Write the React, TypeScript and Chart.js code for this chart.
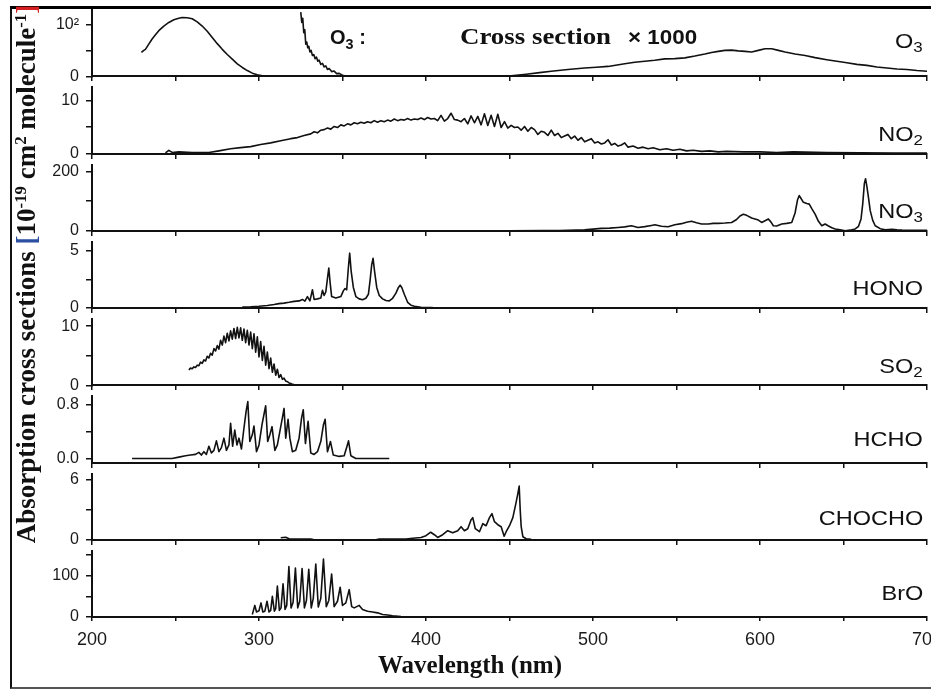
import React, { useEffect, useRef } from 'react';
import { Chart, registerables } from 'chart.js';

Chart.register(...registerables);

// ---------- data (wavelength nm, cross section in panel units) ----------
const X_MIN = 200;
const X_MAX = 700;
const X_TICK_VALUES = [200, 250, 300, 350, 400, 450, 500, 550, 600, 650, 700];

const O3: (number | null)[][] = [
  [229.6, 46], [231, 50], [232, 52], [234, 62], [236, 72], [238, 80], [240, 88], [243, 97], [246, 104],
  [249, 109], [252, 112], [254, 113.5], [257, 113], [260, 111], [263, 105], [266, 97], [269, 87], [272, 75],
  [275, 63], [278, 52], [281, 42], [284, 33], [287, 24], [290, 17], [293, 11], [296, 6], [299, 3], [302, 1],
  [306, 0.3], [310, 0], [318, null],
  [325, 124], [325.6, 104], [326.2, 112], [326.8, 84], [327.4, 90], [328, 62], [328.6, 66], [329.2, 55],
  [329.8, 58], [330.5, 47], [331.2, 50], [332, 40], [332.8, 42], [333.6, 34], [334.4, 37], [335.2, 29],
  [336, 31], [337, 23], [338, 25], [339, 18], [340, 20], [341, 13], [342, 15], [343.5, 9], [345, 10],
  [346.5, 5], [348, 5.5], [350, 2], [352, 0.5], [355, 0],
  [420, 0], [440, 0.3], [451, 1], [460, 4], [468, 7], [475, 9.7], [485, 13], [495, 16], [502, 17.5],
  [509, 19], [519, 24], [525, 27], [531, 29], [537, 31], [543, 33.5], [549, 34], [555, 35.5], [561, 39],
  [567, 43], [571, 46], [575, 48], [579, 50], [583, 50.5], [587, 49], [591, 48], [595, 47], [599, 50],
  [603, 53], [607, 53], [611, 50], [615, 47], [621, 43], [627, 40], [633, 36], [640, 32], [646, 29],
  [652, 26], [658, 23], [664, 21], [670, 18], [676, 16], [682, 14], [688, 13], [694, 11], [700, 9.7],
];

const NO2: number[][] = [
  [244, 0.1], [246, 0.6], [248, 0.2], [252, 0.3], [260, 0.2], [270, 0.2], [276, 0.5], [283, 0.9], [289, 1.1],
  [295, 1.3], [301, 1.7], [307, 2.0], [313, 2.4], [319, 2.8], [323, 3.0], [327, 3.4], [331, 3.7], [333, 4.1],
  [335, 3.9], [337, 4.4], [339, 4.5], [341, 4.8], [343, 4.6], [345, 5.1], [347, 4.9], [349, 5.4], [351, 5.2],
  [353, 5.6], [355, 5.4], [357, 5.8], [359, 5.6], [361, 5.9], [363, 5.7], [365, 6.0], [367, 5.8], [369, 6.2],
  [371, 5.9], [373, 6.2], [375, 6.0], [377, 6.3], [379, 6.1], [381, 6.5], [383, 6.2], [385, 6.4], [387, 6.3],
  [389, 6.6], [391, 6.3], [393, 6.5], [395, 6.4], [397, 6.7], [399, 6.4], [401, 6.8], [403, 6.5], [405, 6.6],
  [407, 6.2], [409, 7.2], [411, 6.1], [413, 6.6], [415, 7.6], [417, 6.4], [419, 6.3], [421, 6.0], [423, 6.6],
  [425, 5.6], [427, 7.1], [429, 5.8], [431, 7.0], [433, 5.4], [435, 7.5], [437, 5.3], [439, 7.2], [441, 5.1],
  [443, 7.4], [445, 4.9], [447, 6.0], [449, 4.8], [451, 5.3], [453, 4.9], [455, 5.0], [457, 4.4], [459, 5.1],
  [461, 4.2], [463, 4.9], [465, 4.5], [467, 3.6], [469, 4.2], [471, 4.0], [473, 3.4], [475, 4.4], [477, 3.4],
  [479, 3.8], [481, 3.0], [483, 3.3], [485, 3.6], [487, 2.8], [489, 3.3], [491, 2.5], [493, 3.0], [495, 2.2],
  [497, 2.5], [499, 2.8], [501, 2.0], [503, 2.2], [505, 1.8], [507, 2.0], [509, 2.6], [511, 1.6], [513, 1.9],
  [515, 1.4], [517, 1.6], [519, 2.0], [521, 1.2], [524, 1.4], [527, 1.0], [530, 1.2], [533, 0.9], [536, 1.1],
  [540, 0.7], [544, 0.9], [548, 0.6], [552, 0.8], [556, 0.5], [560, 0.6], [565, 0.4], [570, 0.5], [575, 0.3],
  [580, 0.4], [590, 0.3], [600, 0.3], [610, 0.2], [620, 0.3], [640, 0.2], [660, 0.15], [680, 0.1], [700, 0.1],
];

const NO3: number[][] = [
  [450, 0], [470, 0.5], [480, 1], [490, 2.5], [495, 3.4], [500, 5.5], [505, 8], [510, 9], [515, 11], [519, 13],
  [523, 17], [527, 11], [531, 14], [535, 18], [537, 20], [541, 15], [545, 13.6], [549, 20], [553, 24],
  [556, 29], [559, 32], [562, 27], [565, 23], [569, 23], [572, 25], [575, 25], [579, 26], [583, 28],
  [586, 38], [588, 50], [590, 56], [592, 52], [595, 43], [597, 40], [599, 36], [601, 28], [603, 34],
  [605, 40], [606.5, 30], [608, 17], [610, 16], [613, 23], [616, 25], [619, 28], [621, 60], [622.5, 105],
  [623.5, 119], [624.5, 110], [626, 96], [628, 92], [629.5, 90], [631, 75], [633, 56], [635, 32], [637, 17],
  [639, 23], [641, 16], [643, 10], [645, 6], [648, 3], [651, 0], [654, 2], [657, 6], [659, 15], [660.5, 40],
  [661.5, 90], [662.5, 160], [663.2, 176], [664, 150], [665, 110], [666, 68], [667.5, 35], [669, 17],
  [672, 7], [675, 3], [679, 5], [682, 3], [685, 2], [690, 1.5], [700, 1.5],
];

const HONO: number[][] = [
  [290, 0.08], [295, 0.1], [300, 0.15], [305, 0.22], [309, 0.3], [312, 0.38], [315, 0.43], [318, 0.5],
  [321, 0.58], [324, 0.62], [326, 0.75], [327.5, 0.6], [329, 1.0], [330.5, 0.62], [332, 1.6], [333, 0.75],
  [335, 0.8], [337, 0.87], [338, 1.55], [339, 1.1], [340, 1.4], [341, 2.6], [341.8, 3.5], [342.6, 2.2],
  [343.5, 1.0], [346, 0.87], [349, 1.0], [350.5, 1.5], [351.5, 1.7], [352.5, 1.6], [353.5, 3.5], [354.3, 4.8],
  [355.2, 3.2], [356.5, 1.8], [358, 1.0], [360, 0.8], [362, 0.72], [364, 0.85], [365.5, 1.2], [366.5, 2.4],
  [367.5, 3.8], [368.3, 4.35], [369.2, 3.2], [370.5, 1.8], [372, 1.1], [374, 0.8], [376, 0.65], [378, 0.62],
  [380, 0.85], [382, 1.3], [383.5, 1.8], [384.5, 2.0], [385.5, 1.8], [387, 1.2], [389, 0.5], [391, 0.25],
  [393, 0.15], [397, 0.07], [401, 0.04], [404, 0.03],
];

const SO2: number[][] = [
  [258, 2.6], [259, 2.9], [260, 2.8], [261, 3.1], [262, 3.0], [263, 3.4], [264, 3.3], [265, 3.9], [266, 3.7],
  [267, 4.3], [268, 4.1], [269, 4.9], [270, 4.6], [271, 5.4], [272, 5.1], [273, 6.2], [274, 5.8], [275, 6.7],
  [276, 6.1], [277, 7.6], [278, 6.8], [279, 8.3], [280, 7.2], [281, 8.8], [282, 7.5], [283, 9.2], [284, 7.8],
  [285, 9.6], [286, 7.9], [287, 9.8], [288, 8.0], [289, 9.7], [290, 7.6], [291, 9.5], [292, 7.2], [293, 9.3],
  [294, 6.8], [295, 9.0], [296, 6.2], [297, 8.7], [298, 5.6], [299, 8.2], [300, 4.8], [301, 7.4], [302, 4.2],
  [303, 6.6], [304, 3.4], [305, 5.6], [306, 2.8], [307, 4.6], [308, 2.2], [309, 3.6], [310, 1.7], [311, 2.7],
  [312, 1.3], [313, 1.8], [314, 1.0], [315, 1.2], [316, 0.7], [317, 0.6], [318, 0.4], [319, 0.3], [320, 0.15],
  [321, 0.1], [322, 0.03], [323, 0],
];

const HCHO: number[][] = [
  [224, 0], [248, 0], [252, 0.02], [256, 0.04], [259, 0.05], [262, 0.06], [264, 0.09], [265.5, 0.05],
  [267, 0.1], [268.5, 0.06], [270, 0.18], [271.5, 0.08], [273, 0.12], [274.5, 0.26], [276, 0.1], [277.5, 0.16],
  [279, 0.3], [280.5, 0.12], [282, 0.2], [283, 0.52], [284.2, 0.18], [285.5, 0.42], [286.8, 0.2], [288, 0.3],
  [289.5, 0.14], [291, 0.45], [292.3, 0.7], [293.3, 0.84], [294.5, 0.25], [296, 0.35], [297, 0.48],
  [298.5, 0.1], [300, 0.2], [301.8, 0.5], [303.2, 0.68], [304, 0.78], [305.2, 0.25], [306.5, 0.35],
  [307.8, 0.47], [309.5, 0.12], [311, 0.2], [312.5, 0.4], [314, 0.6], [315, 0.74], [316, 0.3], [317.4, 0.58],
  [318.5, 0.3], [320, 0.1], [322, 0.12], [324, 0.3], [325.5, 0.6], [326.5, 0.72], [327.8, 0.22], [329.4, 0.55],
  [331, 0.08], [333, 0.06], [335, 0.1], [337, 0.25], [338.6, 0.5], [339.6, 0.58], [341, 0.1], [342.8, 0.25],
  [344.5, 0.05], [348, 0.03], [351, 0.04], [352.7, 0.18], [353.6, 0.26], [355, 0.04], [358, 0], [378, 0],
];

const CHOCHO: number[][] = [
  [313, 0.2], [316, 0.25], [318, 0.1], [322, 0.07], [331, 0.07], [333, 0], [370, 0], [372, 0.06], [388, 0.07],
  [392, 0.15], [397, 0.23], [400, 0.4], [402.8, 0.75], [405, 0.5], [407, 0.23], [410, 0.5], [413, 0.9],
  [416, 0.7], [419, 0.9], [421, 1.3], [423, 0.9], [425, 1.1], [427, 2.0], [428, 2.2], [429.5, 1.1], [432, 0.8],
  [434, 1.6], [436, 1.4], [438, 2.2], [439.5, 2.6], [441, 1.8], [443, 1.5], [445, 1.3], [446.8, 0.35],
  [448, 0.8], [450, 1.4], [452, 2.2], [453.8, 3.6], [455, 4.6], [455.8, 5.35], [456.4, 3.0], [457, 1.3],
  [458, 0.3], [460, 0.1], [463, 0.05],
];

const BRO: number[][] = [
  [296, 6], [297.5, 28], [298.5, 12], [300, 15], [301.2, 34], [302.3, 12], [303.5, 14], [304.8, 38], [306, 12],
  [307, 16], [308, 50], [309.2, 14], [310, 20], [311, 75], [312.2, 16], [313.2, 22], [314.4, 80], [315.6, 18],
  [316.6, 28], [317.9, 122], [319.2, 22], [320.4, 35], [321.8, 118], [323.2, 22], [324.4, 38], [325.8, 117],
  [327.2, 22], [328.4, 40], [329.8, 115], [331.3, 22], [332.5, 45], [334, 128], [335.5, 24], [337, 45],
  [338.6, 140], [340.3, 25], [341.8, 40], [343.5, 104], [345, 25], [347, 38], [348.6, 72], [350, 28],
  [352, 34], [354, 66], [355.5, 25], [357, 22], [360, 28], [362, 18], [365, 14], [368, 12], [371, 10],
  [374, 6], [377, 5], [380, 3], [385, 1], [390, 0.5],
];

const SERIES = [O3, NO2, NO3, HONO, SO2, HCHO, CHOCHO, BRO];
const SPECIES = ['O3', 'NO2', 'NO3', 'HONO', 'SO2', 'HCHO', 'CHOCHO', 'BrO'];
const Y_MIN = [0, 0, 0, 0, 0, -0.06, 0, 0];
const Y_MAX = [128, 12.5, 224, 5.8, 11.2, 0.92, 6.6, 160];
const Y_TICKS = [[0, 50, 100], [0, 5, 10], [0, 100, 200], [0, 2.5, 5], [0, 5, 10], [0, 0.4, 0.8], [0, 3, 6], [0, 50, 100, 150]];
const Y_TICK_LABELS = [
  ['0', '', '10²'], ['0', '', '10'], ['0', '', '200'], ['0', '', '5'], ['0', '', '10'],
  ['0.0', '', '0.8'], ['0', '', '6'], ['0', '', '100', ''],
];
const PANEL_LABELS = [['O', '3'], ['NO', '2'], ['NO', '3'], ['HONO', ''], ['SO', '2'], ['HCHO', ''], ['CHOCHO', ''], ['BrO', '']];

// ---------- layout / style ----------
const W = 931;
const H = 699;
const AXIS_LEFT = 92;
const PANEL_WEIGHT = 66.25;
const GAP_WEIGHT = 11;
const LABEL_Y = [40, 133, 210, 287, 365, 438, 517, 592];
const INK = '#111';
const SANS = '"Liberation Sans", Arial, sans-serif';
const SERIF = '"Liberation Serif", "Times New Roman", serif';

export default function App() {
  const canvasRef = useRef<HTMLCanvasElement | null>(null);

  useEffect(() => {
    const canvas = canvasRef.current;
    if (!canvas) return;

    const datasets = SERIES.map((s, i) => ({
      label: SPECIES[i],
      data: s.map(([x, y]) => ({ x, y })),
      xAxisID: 'x',
      yAxisID: 'y' + i,
      borderColor: INK,
      borderWidth: 1.6,
      pointRadius: 0,
      tension: 0,
      fill: false,
      spanGaps: false,
      borderJoinStyle: 'round' as const,
    }));

    const xBase = (position: any, showLabels: boolean) => ({
      type: 'linear',
      position,
      min: X_MIN,
      max: X_MAX,
      afterBuildTicks: (s: any) => {
        s.ticks = X_TICK_VALUES.map((v) => ({ value: v }));
      },
      ticks: {
        display: showLabels,
        autoSkip: false,
        maxRotation: 0,
        padding: 8,
        color: '#1a1a1a',
        font: { size: 18, family: SANS },
        callback: (v: any) => (Number(v) % 100 === 0 ? String(v) : ''),
      },
      grid: { drawOnChartArea: false, drawTicks: true, tickLength: 4, color: INK, lineWidth: 1.5 },
      border: { display: true, color: INK, width: 2 },
      afterFit: (s: any) => {
        if (showLabels) s.height = 60;
        s.paddingLeft = 0;
        s.paddingRight = 0;
      },
    });

    const scales: any = { x: xBase('bottom', true) };
    for (let i = 0; i < 7; i++) {
      scales['x' + i] = xBase({ ['y' + i]: Y_MIN[i] }, false);
    }
    for (let i = 0; i < 8; i++) {
      scales['y' + i] = {
        type: 'linear',
        position: 'left',
        stack: 'panels',
        stackWeight: PANEL_WEIGHT,
        weight: 100 - 2 * i,
        min: Y_MIN[i],
        max: Y_MAX[i],
        afterBuildTicks: (s: any) => {
          s.ticks = Y_TICKS[i].map((v) => ({ value: v }));
        },
        ticks: {
          autoSkip: false,
          padding: 7,
          color: '#1a1a1a',
          font: { size: 16, family: SANS },
          callback: (_v: any, idx: number) => Y_TICK_LABELS[i][idx],
        },
        grid: { drawOnChartArea: false, drawTicks: true, tickLength: 6, color: INK, lineWidth: 1.5 },
        border: { display: true, color: INK, width: 2 },
        afterFit: (s: any) => {
          s.width = AXIS_LEFT;
          s.paddingTop = 0;
          s.paddingBottom = 0;
        },
      };
      if (i < 7) {
        scales['gap' + i] = {
          type: 'linear',
          position: 'left',
          stack: 'panels',
          stackWeight: GAP_WEIGHT,
          weight: 99 - 2 * i,
          min: 0,
          max: 1,
          grid: { display: false },
          border: { display: false },
          ticks: { display: false },
          afterFit: (s: any) => {
            s.width = AXIS_LEFT;
            s.paddingTop = 0;
            s.paddingBottom = 0;
          },
        };
      }
    }

    const chart = new Chart(canvas, {
      type: 'line',
      data: { datasets },
      options: {
        animation: false,
        responsive: true,
        maintainAspectRatio: false,
        devicePixelRatio: 1,
        layout: { padding: { top: 10, right: 4, bottom: 22, left: 0 } },
        plugins: { legend: { display: false }, tooltip: { enabled: false }, title: { display: false } },
        scales,
      } as any,
    });
    return () => chart.destroy();
  }, []);

  const sub = { fontSize: '0.72em', verticalAlign: '-0.32em', lineHeight: 0 } as const;
  const sup = { fontSize: '0.62em', verticalAlign: '0.55em', lineHeight: 0 } as const;

  return (
    <div style={{ position: 'fixed', left: 0, top: 0, width: W, height: H, background: '#fff', overflow: 'hidden' }}>
      <div style={{ position: 'absolute', left: 0, top: 0, width: W, height: H }}>
        <canvas ref={canvasRef} />
      </div>

      {/* frame */}
      <div
        style={{
          position: 'absolute', left: 10, top: 6, width: W - 10, height: 689 - 6,
          borderLeft: '2px solid #111', borderTop: '3px solid #000', borderBottom: '2px solid #555',
          boxSizing: 'border-box', pointerEvents: 'none',
        }}
      />

      {/* panel labels */}
      {PANEL_LABELS.map(([m, s], i) => (
        <div
          key={i}
          style={{
            position: 'absolute', right: 8, top: LABEL_Y[i], transform: 'translateY(-50%) scaleX(1.12)',
            transformOrigin: 'right center', font: `21px ${SANS}`, color: INK, lineHeight: 1, whiteSpace: 'nowrap',
          }}
        >
          {m}
          {s && <span style={sub}>{s}</span>}
        </div>
      ))}

      {/* O3 note */}
      <div style={{ position: 'absolute', left: 330, top: 37, transform: 'translateY(-50%)', font: `bold 20px ${SANS}`, color: INK, lineHeight: 1, whiteSpace: 'nowrap' }}>
        O<span style={sub}>3</span> :
      </div>
      <div style={{ position: 'absolute', left: 460, top: 36, transform: 'translateY(-50%) scaleX(1.12)', transformOrigin: 'left center', font: `bold 24px ${SERIF}`, color: INK, lineHeight: 1, whiteSpace: 'nowrap' }}>
        Cross section
      </div>
      <div style={{ position: 'absolute', left: 628, top: 37, transform: 'translateY(-50%) scaleX(1.12)', transformOrigin: 'left center', font: `bold 20px ${SANS}`, color: INK, lineHeight: 1, whiteSpace: 'nowrap' }}>
        × 1000
      </div>

      {/* y title */}
      <div
        style={{
          position: 'absolute', left: 26 - 300, top: 274 - 16, width: 600, height: 32, textAlign: 'center',
          transform: 'rotate(-90deg)', font: `bold 27px ${SERIF}`, color: INK, lineHeight: '32px', whiteSpace: 'nowrap',
        }}
      >
        Absorption cross sections <span style={{ color: '#2b4fa0' }}>[</span>10<span style={sup}>-19</span> cm<span style={sup}>2</span> molecule<span style={sup}>-1</span><span style={{ color: '#d42020' }}>]</span>
      </div>

      {/* x title */}
      <div
        style={{
          position: 'absolute', left: 270, top: 650, width: 400, textAlign: 'center',
          font: `bold 25px ${SERIF}`, color: INK, lineHeight: '30px', whiteSpace: 'nowrap',
        }}
      >
        Wavelength (nm)
      </div>
    </div>
  );
}
